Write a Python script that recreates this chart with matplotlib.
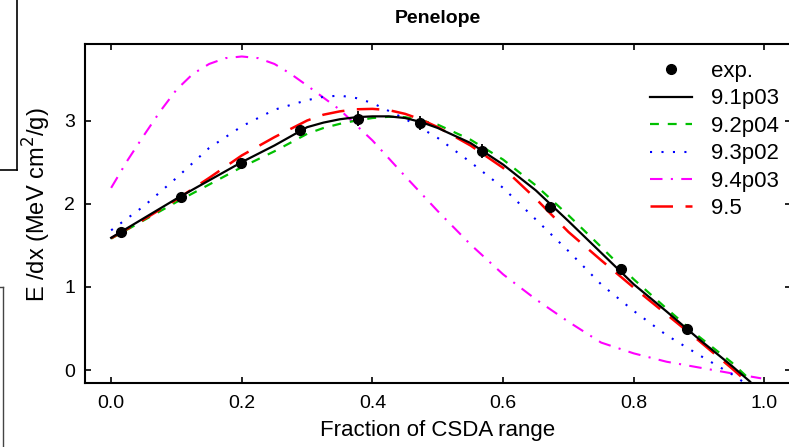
import matplotlib
matplotlib.use("Agg")
import matplotlib.pyplot as plt
from matplotlib.lines import Line2D

plt.rcParams['font.family'] = ['Liberation Sans', 'DejaVu Sans']

# experimental points
exp_x = [0.015, 0.107, 0.199, 0.289, 0.378, 0.472, 0.568, 0.672, 0.780, 0.882]
exp_y = [1.66, 2.085, 2.49, 2.88, 3.02, 2.97, 2.635, 1.965, 1.21, 0.493]
exp_err = [0.04, 0.04, 0.05, 0.06, 0.09, 0.09, 0.08, 0.06, 0.04, 0.03]

# 9.1p03
v91_x = [0, 0.05, 0.1, 0.15, 0.2, 0.25, 0.3, 0.325, 0.35, 0.375, 0.4, 0.425, 0.45, 0.475, 0.5,
         0.55, 0.6, 0.65, 0.7, 0.75, 0.8, 0.85, 0.9, 0.95, 0.978]
v91_y = [1.59, 1.825, 2.06, 2.28, 2.50, 2.70, 2.92, 2.975, 3.015, 3.04, 3.05, 3.05, 3.03, 2.98, 2.91,
         2.73, 2.47, 2.16, 1.79, 1.41, 1.03, 0.705, 0.37, 0.05, -0.14]

# 9.2p04
v92_x = [0, 0.05, 0.1, 0.15, 0.2, 0.25, 0.3, 0.325, 0.35, 0.375, 0.4, 0.425, 0.45, 0.475, 0.5,
         0.55, 0.6, 0.65, 0.7, 0.75, 0.8, 0.85, 0.9, 0.95, 0.981]
v92_y = [1.58, 1.80, 2.02, 2.23, 2.44, 2.63, 2.84, 2.91, 2.96, 3.00, 3.03, 3.045, 3.04, 3.00, 2.95,
         2.77, 2.53, 2.22, 1.86, 1.48, 1.09, 0.74, 0.40, 0.09, -0.14]

# 9.3p02
v93_x = [0, 0.05, 0.1, 0.15, 0.2, 0.25, 0.3, 0.325, 0.35, 0.375, 0.4, 0.45, 0.5,
         0.55, 0.6, 0.65, 0.7, 0.75, 0.8, 0.85, 0.9, 0.95, 0.967]
v93_y = [1.68, 1.97, 2.31, 2.67, 2.93, 3.13, 3.245, 3.285, 3.30, 3.27, 3.21, 3.02, 2.79,
         2.50, 2.19, 1.81, 1.43, 1.03, 0.71, 0.42, 0.18, -0.05, -0.14]

# 9.4p03
v94_x = [0, 0.025, 0.05, 0.075, 0.1, 0.125, 0.15, 0.175, 0.2, 0.225, 0.25, 0.275, 0.3, 0.35,
         0.4, 0.45, 0.5, 0.55, 0.6, 0.65, 0.7, 0.75, 0.8, 0.85, 0.9, 0.95, 0.995]
v94_y = [2.19, 2.52, 2.82, 3.11, 3.37, 3.56, 3.68, 3.75, 3.77, 3.75, 3.68, 3.56, 3.42, 3.13,
         2.76, 2.33, 1.91, 1.51, 1.15, 0.85, 0.58, 0.33, 0.20, 0.10, 0.03, -0.04, -0.10]

# 9.5
v95_x = [0, 0.05, 0.1, 0.15, 0.2, 0.25, 0.3, 0.325, 0.35, 0.375, 0.4, 0.425, 0.45, 0.475, 0.5,
         0.55, 0.6, 0.65, 0.7, 0.75, 0.8, 0.85, 0.9, 0.95, 0.973]
v95_y = [1.585, 1.81, 2.05, 2.31, 2.58, 2.80, 3.00, 3.07, 3.11, 3.135, 3.14, 3.125, 3.08, 3.01, 2.92,
         2.70, 2.43, 2.06, 1.66, 1.32, 0.99, 0.67, 0.35, 0.02, -0.14]

xticks = [0.0, 0.2, 0.4, 0.6, 0.8, 1.0]
xticklabels = ['0.0', '0.2', '0.4', '0.6', '0.8', '1.0']
yticks = [0, 1, 2, 3]

fig = plt.figure(figsize=(7.89, 4.47), dpi=100)
ax = fig.add_axes([85/789, (447-382.5)/447, 705.6/789, (382.5-44)/447])

ax.errorbar(exp_x, exp_y, yerr=exp_err, fmt='none', ecolor='black',
            elinewidth=1.3, capsize=0, zorder=6)
h_exp, = ax.plot(exp_x, exp_y, 'o', color='black', ms=7, label='exp.', zorder=7)
h91, = ax.plot(v91_x, v91_y, color='black', lw=1.6, label='9.1p03', zorder=5)
h92, = ax.plot(v92_x, v92_y, color='#00c000', lw=1.6, dashes=(4, 4), label='9.2p04', zorder=4)
h93, = ax.plot(v93_x, v93_y, color='#0000ff', lw=1.5, dashes=(1, 4.5), label='9.3p02', zorder=4)
h94, = ax.plot(v94_x, v94_y, color='#ff00ff', lw=1.5, dashes=(6, 4, 1, 4), label='9.4p03', zorder=3)
h95, = ax.plot(v95_x, v95_y, color='#ff0000', lw=1.8, dashes=(9, 5), label='9.5', zorder=4)

ax.set_xlim(-0.04, 1.04)
ax.set_ylim(-0.15, 3.92)
ax.set_xticks(xticks)
ax.set_xticklabels(xticklabels)
ax.set_yticks(yticks)
ax.tick_params(axis='both', direction='in', length=4, width=1.2, top=True, right=True,
               labelsize=14)
ax.tick_params(axis='x', pad=9)
ax.tick_params(axis='y', pad=7)
for s in ax.spines.values():
    s.set_linewidth(1.5)

ax.set_title('Penelope', fontsize=14, fontweight='bold', pad=15)
ax.set_xlabel('Fraction of CSDA range', fontsize=16, labelpad=6)
ax.set_ylabel('E /dx (MeV cm$^2$/g)', fontsize=17)
ax.yaxis.set_label_coords(-0.046, 0.525)

leg = ax.legend(handles=[h_exp, h91, h92, h93, h94, h95], loc='upper left', frameon=False,
                fontsize=16, handlelength=1.9, handletextpad=0.85, labelspacing=0.29,
                borderaxespad=0, borderpad=0,
                bbox_to_anchor=(650/789, 1 - 61/447), bbox_transform=fig.transFigure)

# fragments of neighbouring panels at the left edge
fig.add_artist(Line2D([16.7/789, 16.7/789], [1.0, 1 - 170/447], transform=fig.transFigure,
                      color='black', lw=1.2))
fig.add_artist(Line2D([0, 16.7/789], [1 - 170/447, 1 - 170/447], transform=fig.transFigure,
                      color='black', lw=1.2))
fig.add_artist(Line2D([3/789, 3/789], [1 - 287/447, 0], transform=fig.transFigure,
                      color='#444444', lw=1.0))
fig.add_artist(Line2D([0, 3/789], [1 - 287/447, 1 - 287/447], transform=fig.transFigure,
                      color='#444444', lw=1.0))

fig.savefig('out.png', dpi=100)
